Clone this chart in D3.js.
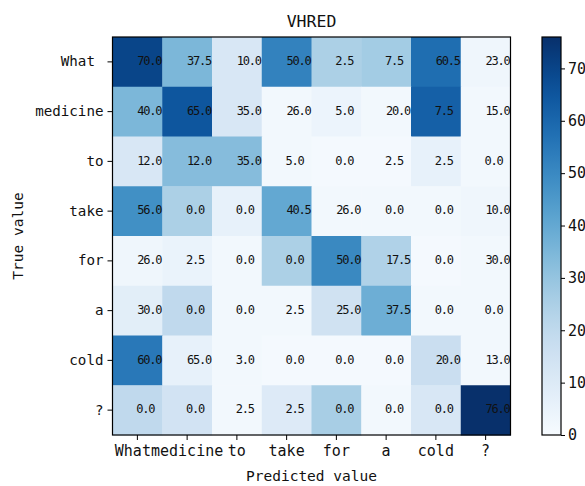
<!DOCTYPE html>
<html>
<head>
<meta charset="utf-8">
<script src="https://d3js.org/d3.v7.min.js"></script>
<style>
  body { margin: 0; background: #fff; }
  text { font-family: "DejaVu Sans Mono", "Liberation Mono", monospace; white-space: pre; }
</style>
</head>
<body>
<div id="chart"></div>
<script>
// word labels, same on both axes
var words = ["What ", "medicine", "to", "take", "for", "a", "cold", "?"];

// numbers written in each cell (row = true word)
var cellText = [
  ["70.0", "37.5", "10.0", "50.0", "2.5", "7.5", "60.5", "23.0"],
  ["40.0", "65.0", "35.0", "26.0", "5.0", "20.0", "7.5", "15.0"],
  ["12.0", "12.0", "35.0", "5.0", "0.0", "2.5", "2.5", "0.0"],
  ["56.0", "0.0", "0.0", "40.5", "26.0", "0.0", "0.0", "10.0"],
  ["26.0", "2.5", "0.0", "0.0", "50.0", "17.5", "0.0", "30.0"],
  ["30.0", "0.0", "0.0", "2.5", "25.0", "37.5", "0.0", "0.0"],
  ["60.0", "65.0", "3.0", "0.0", "0.0", "0.0", "20.0", "13.0"],
  ["0.0", "0.0", "2.5", "2.5", "0.0", "0.0", "0.0", "76.0"]
];

// shade of each cell
var cellShade = [
  [70, 35, 12, 52, 25, 27, 58, 3],
  [35, 65, 12, 2, 4, 2, 62, 2],
  [12, 33, 33, 2, 1, 1, 6, 2],
  [48, 25, 6, 40, 2, 2, 2, 3],
  [3, 5, 2, 25, 50, 24, 1, 2],
  [8, 20, 2, 2, 15, 38, 2, 2],
  [55, 6, 2, 1, 1, 1, 17, 2],
  [20, 14, 2, 10, 26, 2, 12, 76]
];

var colorTicks = [0, 10, 20, 30, 40, 50, 60, 70];
var vmax = 76;

var width = 585, height = 486;
var mLeft = 112.5, mTop = 37, size = 398;

var svg = d3.select("#chart").append("svg")
    .attr("width", width)
    .attr("height", height);

var x = d3.scaleBand().domain(d3.range(words.length)).range([mLeft, mLeft + size]);
var y = d3.scaleBand().domain(d3.range(words.length)).range([mTop, mTop + size]);
var color = d3.scaleSequential(d3.interpolateBlues).domain([0, vmax]);

var cells = [];
cellShade.forEach(function(row, i) {
  row.forEach(function(v, j) {
    cells.push({ r: i, c: j, v: v, t: cellText[i][j] });
  });
});

svg.append("g").selectAll("rect")
  .data(cells)
  .enter()
  .append("rect")
  .attr("x", d => x(d.c))
  .attr("y", d => y(d.r))
  .attr("width", x.bandwidth() + 0.5)
  .attr("height", y.bandwidth() + 0.5)
  .attr("fill", d => color(d.v));

svg.append("g").selectAll("text")
  .data(cells)
  .enter()
  .append("text")
  .attr("x", d => x(d.c) + x.bandwidth() - (d.t.length > 3 ? 1 : 8))
  .attr("y", d => y(d.r) + y.bandwidth() / 2 - 1)
  .attr("dy", "0.35em")
  .attr("text-anchor", "end")
  .style("font-size", "12px")
  .style("letter-spacing", "-1.2px")
  .style("fill", "#111")
  .text(d => d.t);

// frame
svg.append("rect")
  .attr("x", mLeft).attr("y", mTop)
  .attr("width", size).attr("height", size)
  .attr("fill", "none").attr("stroke", "#000").attr("stroke-width", 1.2);

// axes (x labels: trailing space dropped, kept as a shift instead)
var xAxis = svg.append("g")
  .attr("transform", "translate(0," + (mTop + size) + ")")
  .call(d3.axisBottom(x).tickSize(5).tickPadding(5).tickFormat(i => words[i].trim()));
xAxis.select(".domain").remove();
xAxis.selectAll("text")
  .style("font-size", "15px")
  .style("fill", "#111")
  .attr("dx", i => words[i] !== words[i].trim() ? "-0.3em" : null);

var yAxis = svg.append("g")
  .attr("transform", "translate(" + mLeft + ",0)")
  .call(d3.axisLeft(y).tickSize(5).tickPadding(4).tickFormat(i => words[i]));
yAxis.select(".domain").remove();
yAxis.selectAll("text").style("font-size", "14.2px").style("fill", "#111");

// title and axis names
svg.append("text")
  .attr("x", mLeft + size / 2).attr("y", 27)
  .attr("text-anchor", "middle")
  .style("font-size", "16.5px")
  .style("fill", "#111")
  .text("VHRED");

svg.append("text")
  .attr("x", mLeft + size / 2).attr("y", 481)
  .attr("text-anchor", "middle")
  .style("font-size", "14.5px")
  .style("fill", "#111")
  .text("Predicted value");

svg.append("text")
  .attr("transform", "translate(23," + (mTop + size / 2) + ") rotate(-90)")
  .attr("text-anchor", "middle")
  .style("font-size", "14.5px")
  .style("fill", "#111")
  .text("True value");

// colorbar
var cbX = 542, cbW = 19;
var cbScale = d3.scaleLinear().domain([0, vmax]).range([mTop + size, mTop]);

var grad = svg.append("defs").append("linearGradient")
  .attr("id", "cbgrad")
  .attr("x1", "0").attr("y1", "1").attr("x2", "0").attr("y2", "0");
grad.selectAll("stop")
  .data(d3.range(0, 1.0001, 0.05))
  .enter()
  .append("stop")
  .attr("offset", d => d)
  .attr("stop-color", d => color(d * vmax));

svg.append("rect")
  .attr("x", cbX).attr("y", mTop)
  .attr("width", cbW).attr("height", size)
  .attr("fill", "url(#cbgrad)")
  .attr("stroke", "#000").attr("stroke-width", 1.2);

var cbAxis = svg.append("g")
  .attr("transform", "translate(" + (cbX + cbW) + ",0)")
  .call(d3.axisRight(cbScale).tickValues(colorTicks).tickSize(4).tickPadding(3));
cbAxis.select(".domain").remove();
cbAxis.selectAll("text").style("font-size", "15px").style("fill", "#111");
</script>
</body>
</html>
